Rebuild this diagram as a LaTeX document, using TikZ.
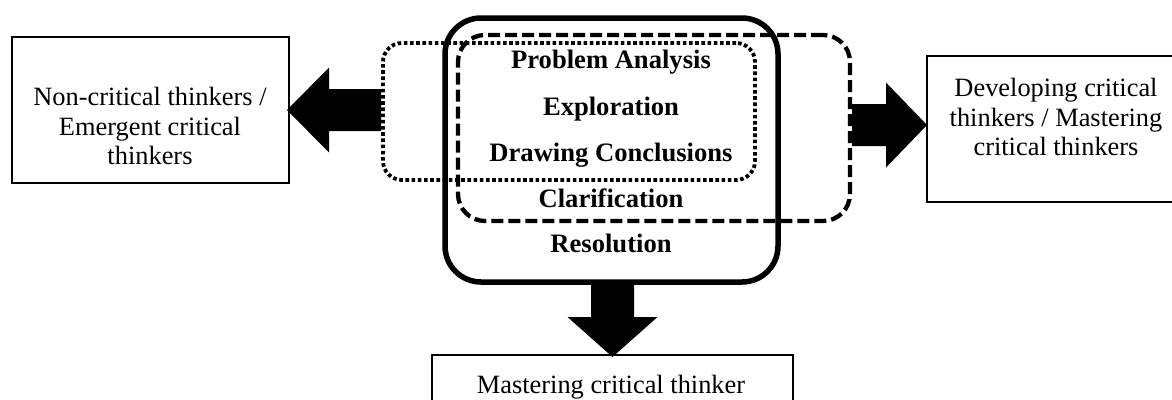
\documentclass[tikz,border=0pt]{standalone}
\usepackage{fontspec}
\setmainfont{Liberation Serif}
\usetikzlibrary{calc}
\begin{document}
\begin{tikzpicture}[x=1pt,y=-1pt,
  txt/.style={font=\fontsize{26.4}{29.5}\selectfont, align=center, inner sep=0pt},
  stage/.style={font=\fontsize{26.6}{29.5}\selectfont\bfseries, anchor=base, inner sep=0pt},
  outbox/.style={draw, line width=2pt, inner sep=0pt},
  solidframe/.style={draw, inner sep=0pt, line width=5.5pt, rounded corners=36pt},
  dashframe/.style={draw, inner sep=0pt, line width=4.3pt, dash pattern=on 12pt off 5pt, rounded corners=27pt},
  dotframe/.style={draw, inner sep=0pt, line width=3.8pt, dash pattern=on 3.6pt off 2.6pt, rounded corners=19pt},
  blockarrow/.style={fill=black, draw=none}]
\useasboundingbox (0,0) rectangle (1172,399);

% outcome boxes
\node[outbox, minimum width=277pt, minimum height=146pt] (L) at (150.5,110) {};
\node[outbox, minimum width=248pt, minimum height=146pt] (R) at (1051,129) {};
\node[outbox, minimum width=361pt, minimum height=48pt] (B) at (612.5,379) {};

% frames
\node[solidframe, minimum width=333pt, minimum height=264pt] (S) at (611.5,150) {};
\node[dashframe, minimum width=392pt, minimum height=186pt] (D) at (654,128) {};
\node[dotframe, minimum width=372pt, minimum height=137pt] (T) at (569,111.5) {};

% texts
\node[txt] (Ltxt) at (150,126) {Non-critical thinkers /\\Emergent critical\\thinkers};
\node[txt] (Rtxt) at (1056,117) {Developing critical\\thinkers / Mastering\\critical thinkers};
\node[txt, anchor=base] (Btxt) at (611,393) {Mastering critical thinker};

\node[stage] (s1) at (611,68) {Problem Analysis};
\node[stage] (s2) at (611,115) {Exploration};
\node[stage] (s3) at (611,161) {Drawing Conclusions};
\node[stage] (s4) at (611,207) {Clarification};
\node[stage] (s5) at (611,252) {Resolution};

% block arrows
\coordinate (ltip) at ($(L.east)+(-3,0)$);
\fill[blockarrow] (ltip) -- ++(42,-42.5) -- ++(0,21.5)
  -- ($(T.west |- ltip)+(0,-21)$) -- ($(T.west |- ltip)+(0,21)$)
  -- ($(ltip)+(42,21)$) -- ++(0,21.5) -- cycle;

\coordinate (rtip) at ($(R.west)+(1,-4)$);
\fill[blockarrow] (rtip) -- ++(-41,-42.5) -- ++(0,21.5)
  -- ($(D.east |- rtip)+(0,-21)$) -- ($(D.east |- rtip)+(0,21)$)
  -- ($(rtip)+(-41,21)$) -- ++(0,21.5) -- cycle;

\coordinate (btip) at ($(B.north)+(0,3)$);
\fill[blockarrow] (btip) -- ++(-45,-40) -- ++(23.5,0)
  -- ($(S.south -| btip)+(-21.5,0)$) -- ($(S.south -| btip)+(21.5,0)$)
  -- ($(btip)+(21.5,-40)$) -- ++(23.5,0) -- cycle;
\end{tikzpicture}
\end{document}
